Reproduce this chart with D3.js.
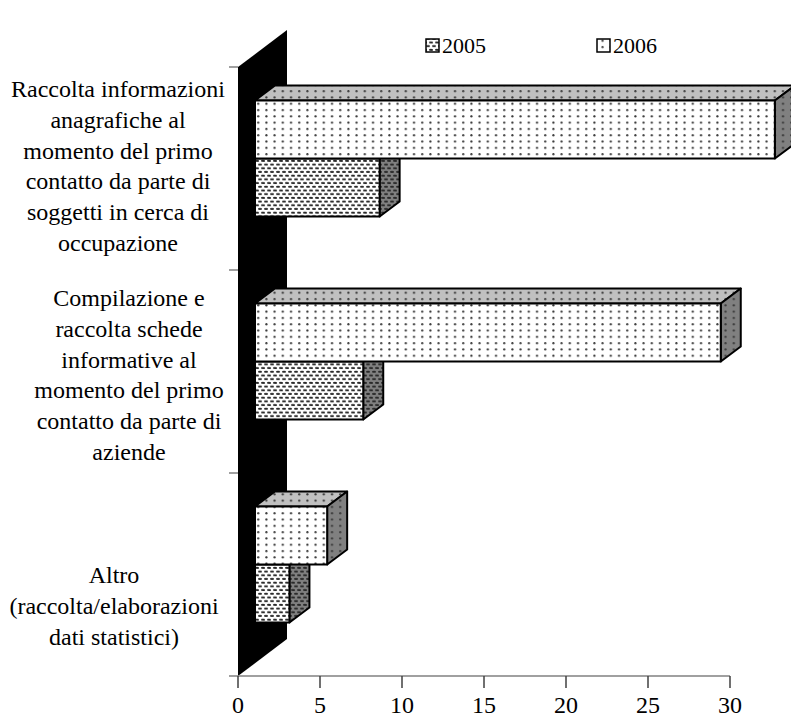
<!DOCTYPE html>
<html>
<head>
<meta charset="utf-8">
<script src="https://cdn.jsdelivr.net/npm/d3@7"></script>
<style>
  html, body { margin: 0; padding: 0; background: #fff; }
  svg { display: block; }
  svg text { font-family: "Liberation Serif", "Times New Roman", Times, serif; }
</style>
</head>
<body>
<svg id="chart" width="791" height="724"></svg>
<script>
// Category labels, each already broken into its display lines
const categories = ["cat1", "cat2", "cat3"];
const categoryLines = [
  ["Raccolta informazioni", "anagrafiche al", "momento del primo", "contatto da parte di", "soggetti in cerca di", "occupazione"],
  ["Compilazione e", "raccolta schede", "informative al", "momento del primo", "contatto da parte di", "aziende"],
  ["Altro", "(raccolta/elaborazioni", "dati statistici)"]
];
const seriesNames = ["2006", "2005"];
const values2006 = [31.7, 28.4, 4.4];
const values2005 = [7.6, 6.6, 2.1];
const xTicks = [0, 5, 10, 15, 20, 25, 30];

const svg = d3.select("#chart");
const FONT = "'Liberation Serif', 'Times New Roman', Times, serif";

// plot frame (front plane)
const x0 = 238, x1 = 730, yTop = 67, yBot = 676;
// wall depth offset
const wallDX = 49, wallDY = -37;
// bar front offset and bar depth
const frontDX = 17, frontDY = -10;
const barDX = 20, barDY = -15;

const x = d3.scaleLinear().domain([0, 30]).range([x0, x1]);
const y = d3.scaleBand().domain(categories).range([yTop, yBot]);
const yInner = d3.scaleBand().domain(seriesNames).range([0, y.bandwidth()])
  .paddingInner(0).paddingOuter(0.75);

// ---- fill patterns ----
const defs = svg.append("defs");
function dotPattern(id, bg) {
  const p = defs.append("pattern").attr("id", id).attr("patternUnits", "userSpaceOnUse")
    .attr("width", 8.2).attr("height", 6.3);
  p.append("rect").attr("width", 8.2).attr("height", 6.3).attr("fill", bg);
  p.append("circle").attr("cx", 4).attr("cy", 3).attr("r", 1.1).attr("fill", "#3a3a3a");
}
function dashPattern(id, bg) {
  const p = defs.append("pattern").attr("id", id).attr("patternUnits", "userSpaceOnUse")
    .attr("width", 6).attr("height", 7.4);
  p.append("rect").attr("width", 6).attr("height", 7.4).attr("fill", bg);
  p.append("ellipse").attr("cx", 2).attr("cy", 1.8).attr("rx", 2.1).attr("ry", 1).attr("fill", "#2a2a2a");
  p.append("ellipse").attr("cx", 5).attr("cy", 5.5).attr("rx", 2.1).attr("ry", 1).attr("fill", "#2a2a2a");
  p.append("ellipse").attr("cx", -1).attr("cy", 5.5).attr("rx", 2.1).attr("ry", 1).attr("fill", "#2a2a2a");
}
dotPattern("d-front", "#ffffff");
dotPattern("d-top", "#c0c0c0");
dotPattern("d-side", "#808080");
dashPattern("s-front", "#ffffff");
dashPattern("s-top", "#c0c0c0");
dashPattern("s-side", "#808080");
const fills = {
  "2006": { front: "url(#d-front)", top: "url(#d-top)", side: "url(#d-side)" },
  "2005": { front: "url(#s-front)", top: "url(#s-top)", side: "url(#s-side)" }
};

// ---- back wall ----
svg.append("path")
  .attr("d", `M${x0},${yTop} L${x0 + wallDX},${yTop + wallDY} L${x0 + wallDX},${yBot + wallDY} L${x0},${yBot} Z`)
  .attr("fill", "#000");

// ---- category axis ticks ----
const boundaries = categories.map(c => y(c)).concat([yBot]);
svg.append("g").selectAll("line").data(boundaries).join("line")
  .attr("x1", x0 - 9).attr("x2", x0).attr("y1", d => d).attr("y2", d => d)
  .attr("stroke", "#808080").attr("stroke-width", 1.5);

// ---- value axis ----
svg.append("line").attr("x1", x0).attr("x2", x1).attr("y1", yBot).attr("y2", yBot)
  .attr("stroke", "#808080").attr("stroke-width", 1.5);
const xAxis = svg.append("g");
xAxis.selectAll("line").data(xTicks).join("line")
  .attr("x1", d => x(d)).attr("x2", d => x(d)).attr("y1", yBot).attr("y2", yBot + 12)
  .attr("stroke", "#404040").attr("stroke-width", 1.5);
xAxis.selectAll("text").data(xTicks).join("text")
  .attr("x", d => x(d)).attr("y", yBot + 37)
  .attr("text-anchor", "middle").attr("font-size", 24).attr("font-family", FONT).attr("fill", "#000")
  .text(d => d);

// ---- 3D bars ----
const bars = [];
categories.forEach((c, i) => {
  bars.push({ cat: c, s: "2005", v: values2005[i] });
  bars.push({ cat: c, s: "2006", v: values2006[i] });
});
const gBars = svg.append("g");
bars.forEach(b => {
  const xl = x(0) + frontDX, xr = x(b.v) + frontDX;
  const yt = y(b.cat) + yInner(b.s) + frontDY, yb = yt + yInner.bandwidth();
  const g = gBars.append("g").attr("stroke", "#000").attr("stroke-width", 2).attr("stroke-linejoin", "round");
  // top face
  g.append("path")
    .attr("d", `M${xl},${yt} L${xl + barDX},${yt + barDY} L${xr + barDX},${yt + barDY} L${xr},${yt} Z`)
    .attr("fill", fills[b.s].top);
  // side face
  g.append("path")
    .attr("d", `M${xr},${yt} L${xr + barDX},${yt + barDY} L${xr + barDX},${yb + barDY} L${xr},${yb} Z`)
    .attr("fill", fills[b.s].side);
  // front face
  g.append("rect").attr("x", xl).attr("y", yt).attr("width", xr - xl).attr("height", yb - yt)
    .attr("fill", fills[b.s].front);
});

// ---- category labels ----
const labelCX = [118, 129, 114];
const labelCY = [167, 376, 607];
const lineH = 30.8;
const gLab = svg.append("g").attr("font-size", 24).attr("font-family", FONT)
  .attr("fill", "#000").attr("text-anchor", "middle");
categories.forEach((c, i) => {
  const lines = categoryLines[i];
  lines.forEach((t, k) => {
    gLab.append("text")
      .attr("x", labelCX[i])
      .attr("y", labelCY[i] + 7 + (k - (lines.length - 1) / 2) * lineH)
      .text(t);
  });
});

// ---- legend ----
const legendItems = [
  { name: "2005", x: 426 },
  { name: "2006", x: 597 }
];
const gLeg = svg.append("g");
legendItems.forEach(it => {
  gLeg.append("rect").attr("x", it.x).attr("y", 39).attr("width", 13).attr("height", 13)
    .attr("fill", fills[it.name].front).attr("stroke", "#000").attr("stroke-width", 1.5);
  gLeg.append("text").attr("x", it.x + 16).attr("y", 53).attr("font-size", 22)
    .attr("font-family", FONT).attr("fill", "#000")
    .text(it.name);
});
</script>
</body>
</html>
